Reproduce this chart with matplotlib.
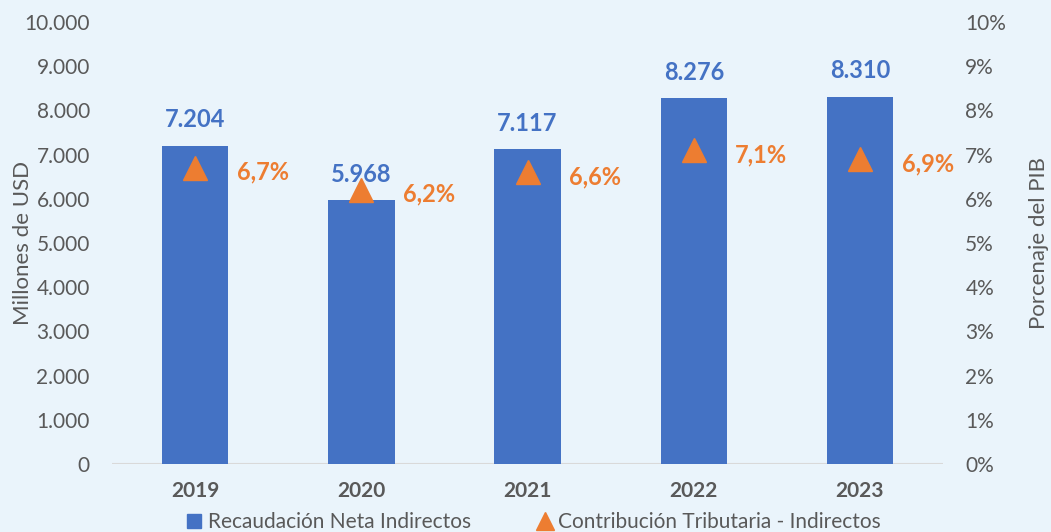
import matplotlib
matplotlib.use("Agg")
import matplotlib.pyplot as plt
import numpy as np
from matplotlib.lines import Line2D
from matplotlib.patches import Patch

years = ["2019", "2020", "2021", "2022", "2023"]
recaudacion = [7204, 5968, 7117, 8276, 8310]      # millones USD
contribucion = [6.7, 6.2, 6.6, 7.1, 6.9]           # % del PIB

bg = "#EAF4FB"
azul = "#4472C4"
naranja = "#ED7D31"
gris = "#595959"

plt.rcParams["font.family"] = ["Lato", "DejaVu Sans"]

fig = plt.figure(figsize=(10.51, 5.32), dpi=100, facecolor=bg)
ax1 = fig.add_axes([0.1066, 0.1278, 0.7907, 0.8308])
ax1.set_facecolor(bg)
ax2 = ax1.twinx()

x = np.arange(len(years))
ax1.bar(x, recaudacion, width=0.4, color=azul, zorder=2)
ax1.set_ylim(0, 10000)
ax1.set_xlim(-0.5, len(years) - 0.5)
ax1.set_yticks(np.arange(0, 10001, 1000))
ax1.set_yticklabels([f"{v:,}".replace(",", ".") for v in range(0, 10001, 1000)])
ax1.set_xticks(x)
ax1.set_xticklabels(years, fontweight="bold", fontsize=15)
ax1.set_ylabel("Millones de USD", fontsize=16, color=gris)
ax1.yaxis.set_label_coords(-0.095, 0.5)

for i, v in enumerate(recaudacion):
    ax1.text(i, v + 330, f"{v:,}".replace(",", "."), ha="center", va="bottom",
             color=azul, fontsize=17, fontweight="bold")

ax2.plot(x, contribucion, linestyle="none", marker="^", markersize=17,
         color=naranja, zorder=3)
ax2.set_ylim(0, 10)
ax2.set_yticks(np.arange(0, 11, 1))
ax2.set_yticklabels([f"{v}%" for v in range(0, 11)])
ax2.set_ylabel("Porcenaje del PIB", fontsize=16, color=gris)
ax2.yaxis.set_label_coords(1.104, 0.5)

for i, v in enumerate(contribucion):
    ax2.text(i + 0.25, v - 0.1, f"{v:.1f}%".replace(".", ","), ha="left", va="center",
             color=naranja, fontsize=17, fontweight="bold")

for ax in (ax1, ax2):
    for s in ax.spines.values():
        s.set_visible(False)
    ax.tick_params(length=0, labelsize=15, colors=gris)
ax1.tick_params(axis="y", pad=16)
ax2.tick_params(axis="y", pad=16)
ax1.tick_params(axis="x", pad=12)
ax1.axhline(0, color="#D9D9D9", linewidth=1.5, zorder=1)

handles = [Patch(color=azul, label="Recaudación Neta Indirectos"),
           Line2D([], [], linestyle="none", marker="^", markersize=13, color=naranja,
                  label="Contribución Tributaria - Indirectos")]
fig.legend(handles=handles, loc="center", bbox_to_anchor=(0.508, 0.018), ncol=2,
           frameon=False, fontsize=15, labelcolor=gris, handlelength=0.7,
           handletextpad=0.3, columnspacing=3.2)

fig.savefig("out.png", dpi=100, facecolor=bg)
